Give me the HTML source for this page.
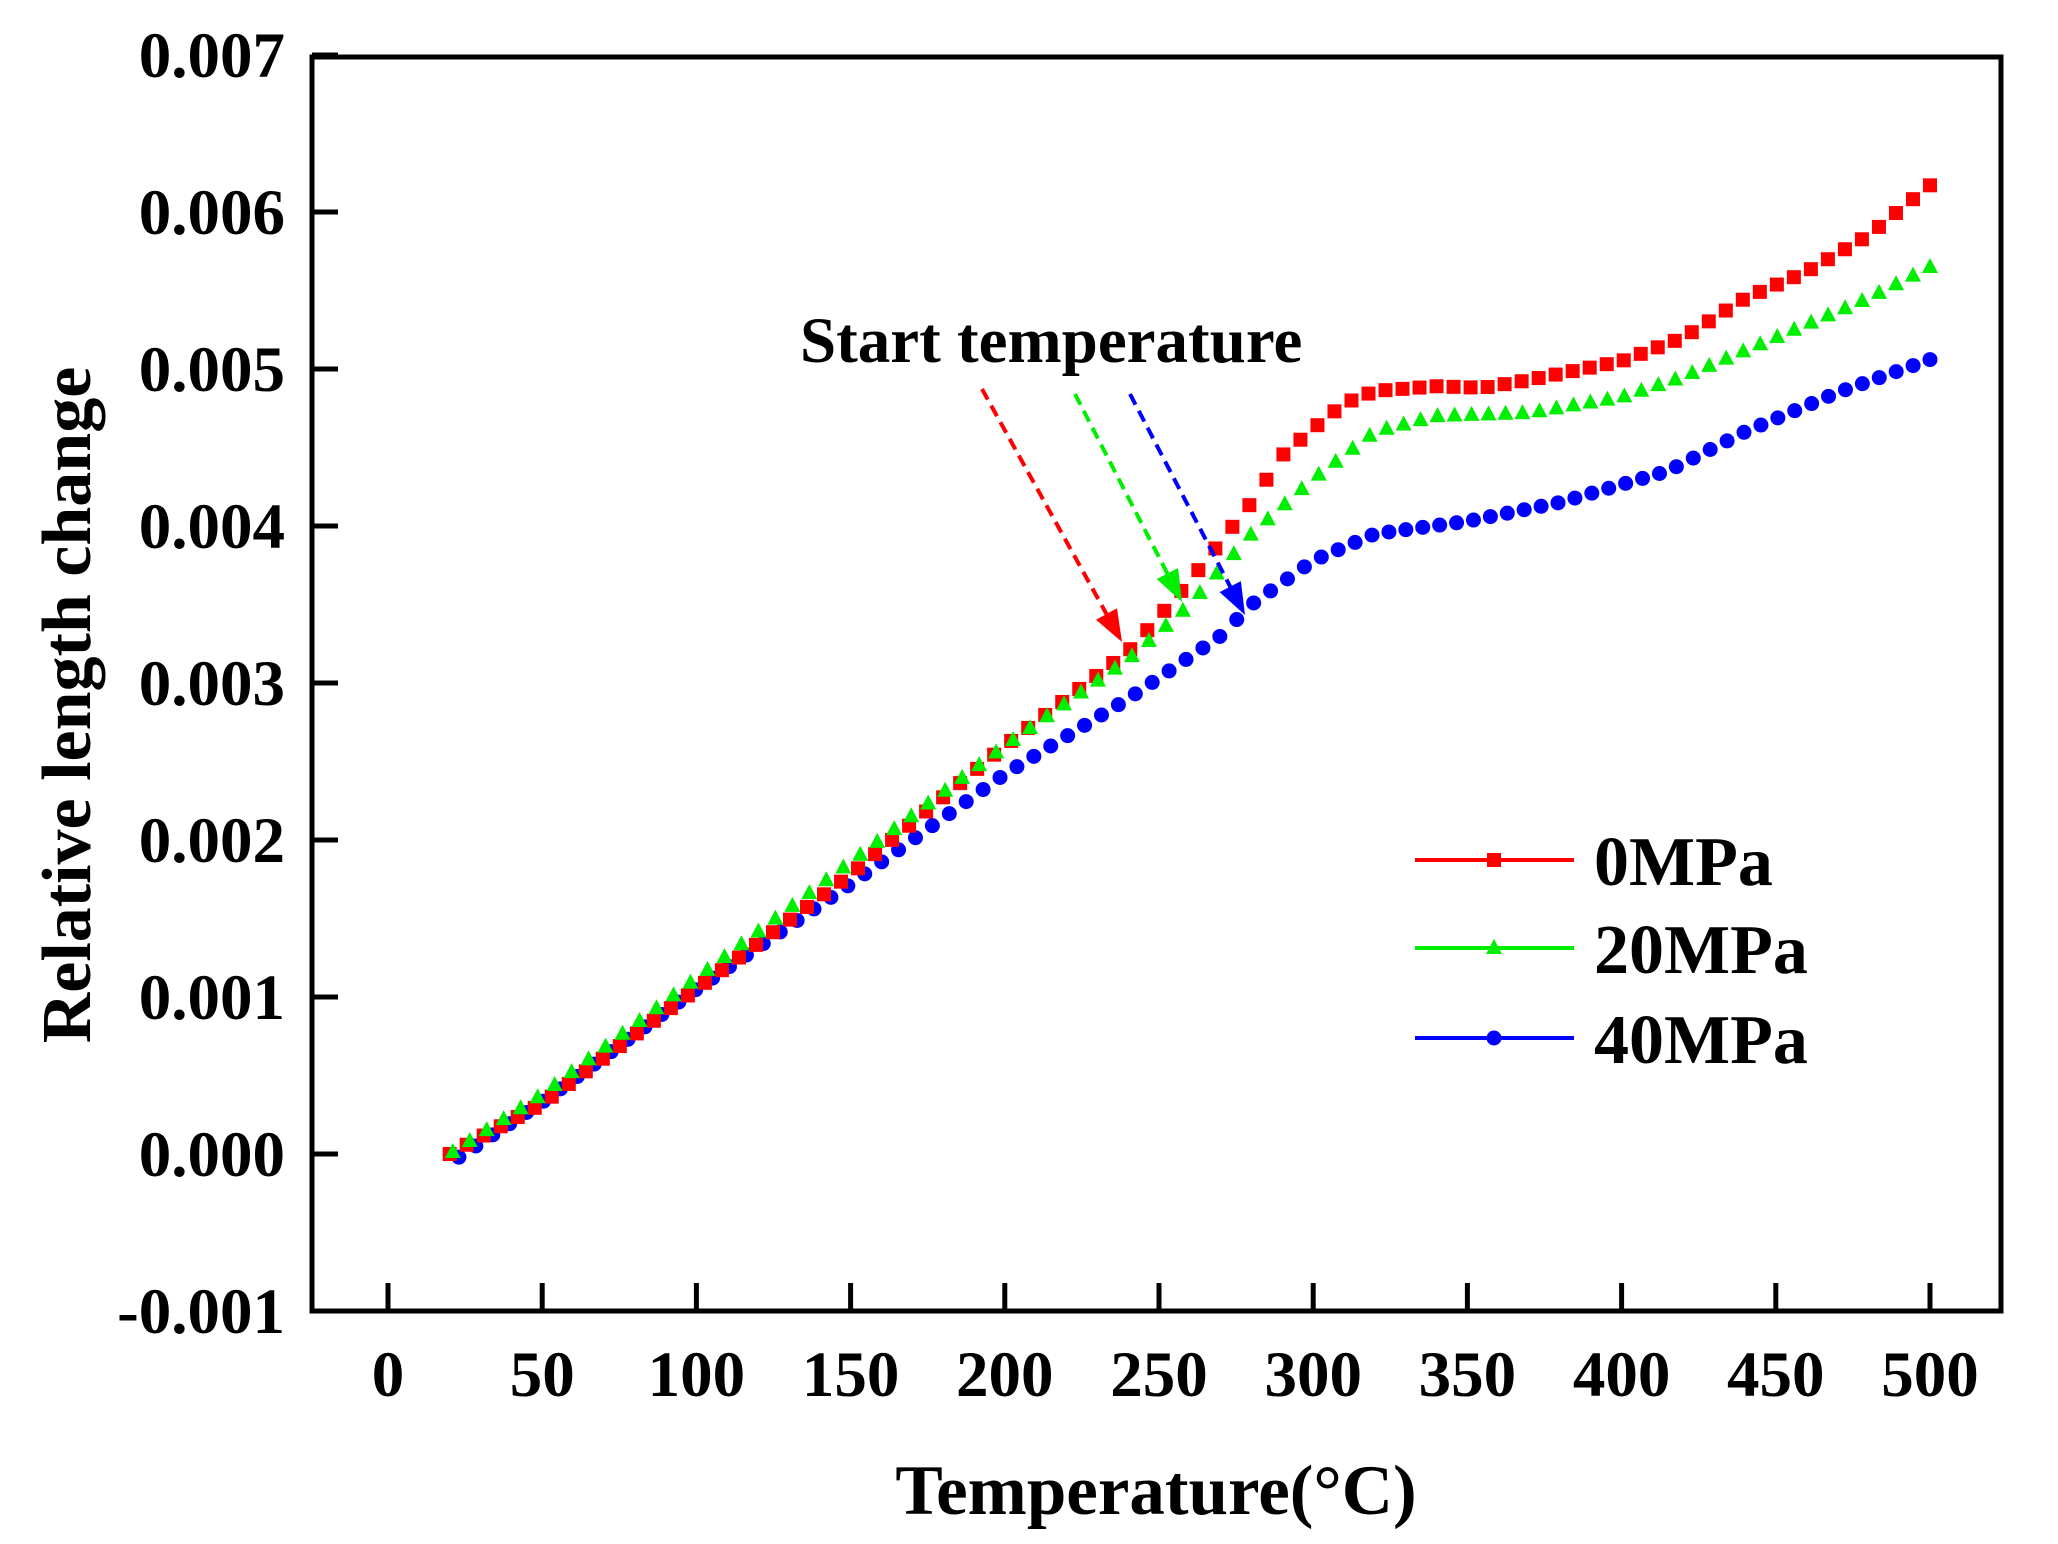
<!DOCTYPE html>
<html><head><meta charset="utf-8"><style>html,body{margin:0;padding:0;background:#fff}svg{display:block}text{font-family:"Liberation Serif",serif;font-weight:bold;fill:#000}</style></head>
<body>
<svg id="s" width="2058" height="1544" viewBox="0 0 2058 1544" xmlns="http://www.w3.org/2000/svg">
<g id="plot"></g>
<rect x="312" y="57" width="1689" height="1254" fill="none" stroke="#000" stroke-width="5"/>
<g id="ticks"></g>
<text x="800" y="362" font-size="65">Start temperature</text>
<text transform="translate(90,705) rotate(-90)" text-anchor="middle" font-size="70">Relative length change</text>
<text x="1156" y="1514" text-anchor="middle" font-size="71">Temperature(°C)</text>
<g id="legend"></g>
</svg>
<script>
var NS="http://www.w3.org/2000/svg",s=document.getElementById('s');
function X(t){return 388+t*3.084;}
function Y(v){return 1154-v*157;}
function el(n,a,p){var e=document.createElementNS(NS,n);for(var k in a)e.setAttribute(k,a[k]);(p||s).appendChild(e);return e;}
var tk=document.getElementById('ticks');
for(var i=0;i<=10;i++){var x=X(i*50);el('line',{x1:x,y1:1311,x2:x,y2:1283,stroke:'#000','stroke-width':5},tk);var t=el('text',{x:x,y:1396,'text-anchor':'middle','font-size':65},tk);t.textContent=i*50;}
for(var j=-1;j<=7;j++){var y=Y(j);el('line',{x1:312,y1:y,x2:338,y2:y,stroke:'#000','stroke-width':5},tk);var t=el('text',{x:285,y:y+22,'text-anchor':'end','font-size':65},tk);t.textContent=(j<0?'-':'')+'0.00'+Math.abs(j);}
function interp(pts,t){for(var i=0;i<pts.length-1;i++){if(t<=pts[i+1][0]){var a=pts[i],b=pts[i+1];return a[1]+(b[1]-a[1])*(t-a[0])/(b[0]-a[0]);}}return pts[pts.length-1][1];}
var red=[[20,0],[50,0.32],[100,1.05],[150,1.78],[200,2.6],[240,3.2],[250,3.42],[260,3.65],[270,3.9],[280,4.15],[290,4.45],[300,4.62],[310,4.78],[320,4.86],[340,4.89],[355,4.88],[370,4.93],[400,5.05],[420,5.2],[440,5.45],[460,5.62],[480,5.85],[500,6.17]];
var green=[[20,0],[50,0.38],[100,1.12],[150,1.86],[200,2.6],[240,3.15],[260,3.5],[280,3.95],[300,4.3],[320,4.6],[340,4.7],[370,4.72],[400,4.82],[420,4.95],[450,5.2],[480,5.45],[500,5.65]];
var blue=[[23,-0.02],[50,0.33],[100,1.05],[150,1.72],[200,2.42],[240,2.9],[270,3.3],[280,3.5],[300,3.78],[320,3.95],[350,4.03],[380,4.15],[415,4.35],[440,4.6],[470,4.85],[500,5.06]];
var pl=document.getElementById('plot');
function mark(type,c,x,y,g){if(type=='s')el('rect',{x:x-7,y:y-7,width:14,height:14,fill:c},g);else if(type=='t')el('path',{d:'M'+x+','+(y-9)+' L'+(x+8)+','+(y+6)+' L'+(x-8)+','+(y+6)+'z',fill:c},g);else el('circle',{cx:x,cy:y,r:7.5,fill:c},g);}
function series(pts,type,c,t0){var n=Math.round((500-t0)/5.5);for(var k=0;k<=n;k++){var t=t0+(500-t0)*k/n;mark(type,c,X(t),Y(interp(pts,t)),pl);}}
series(blue,'c','#0000ff',23);series(red,'s','#ff0000',20);series(green,'t','#00ee00',21);
function arrow(x1,y1,x2,y2,c){el('line',{x1:x1,y1:y1,x2:x2-(x2-x1)*0.1,y2:y2-(y2-y1)*0.1,stroke:c,'stroke-width':4,'stroke-dasharray':'12,7'});var dx=x2-x1,dy=y2-y1,L=Math.hypot(dx,dy),ux=dx/L,uy=dy/L,bx=x2-ux*32,by=y2-uy*32;el('path',{d:'M'+x2+','+y2+' L'+(bx-uy*12)+','+(by+ux*12)+' L'+(bx+uy*12)+','+(by-ux*12)+'z',fill:c});}
arrow(982,389,1122,642,'#ff0000');arrow(1075,394,1182,602,'#00ee00');arrow(1130,394,1245,615,'#0000ff');
var lg=document.getElementById('legend');
[['#ff0000','s','0MPa',860],['#00ee00','t','20MPa',948],['#0000ff','c','40MPa',1038]].forEach(function(a){el('line',{x1:1415,y1:a[3],x2:1574,y2:a[3],stroke:a[0],'stroke-width':4},lg);mark(a[1],a[0],1494,a[3],lg);var t=el('text',{x:1594,y:a[3]+25,'font-size':70},lg);t.textContent=a[2];});
</script>
</body></html>
